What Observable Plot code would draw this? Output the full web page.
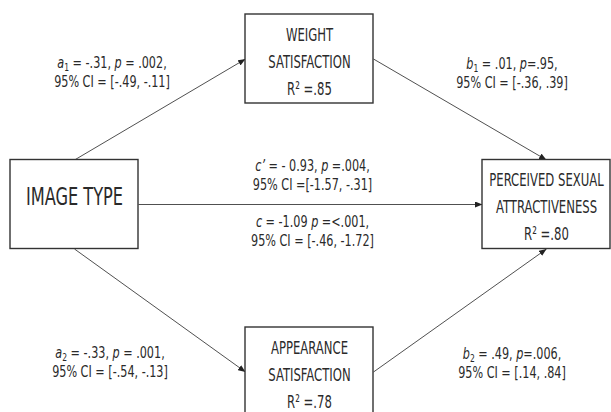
<!DOCTYPE html>
<html><head><meta charset="utf-8">
<script src="https://cdn.jsdelivr.net/npm/d3@7"></script>
<script src="https://cdn.jsdelivr.net/npm/@observablehq/plot@0.6"></script>
<style>body{margin:0;background:#fff}svg{display:block}</style>
</head><body><div id="chart"></div>
<script>
// ---- data: variables (nodes) of the mediation model ----
const nodeNames = ["IMAGE TYPE", "WEIGHT\nSATISFACTION", "PERCEIVED SEXUAL\nATTRACTIVENESS", "APPEARANCE\nSATISFACTION"];
const nodeR2 = [null, ".85", ".80", ".78"];
const nodeCol = [0, 1, 2, 1];   // logical column in the diagram
const nodeRow = [1, 0, 1, 2];   // logical row in the diagram

// ---- data: paths (arrows) ----
const pathFrom = [0, 1, 0, 0, 3];
const pathTo = [1, 2, 2, 3, 2];
const pathFromSide = ["top", "right", "right", "bottom", "right"];
const pathToSide = ["left", "top", "left", "left", "bottom"];

// ---- data: coefficient labels ({..} = italic, _x = subscript) ----
const coefPath = [0, 1, 2, 2, 3, 4];
const coefName = ["{a}_1", "{b}_1", "{c’}", "{c}", "{a}_2", "{b}_2"];
const coefStat = [" = -.31, {p} = .002,", " = .01, {p}=.95,", " = - 0.93, {p} =.004,", " = -1.09 {p} =<.001,", " = -.33, {p} = .001,", " = .49, {p}=.006,"];
const coefCI = ["95% CI = [-.49, -.11]", "95% CI = [-.36, .39]", "95% CI =[-1.57, -.31]", "95% CI = [-.46, -1.72]", "95% CI = [-.54, -.13]", "95% CI = [.14, .84]"];

// ---- layout (pixels) ----
const colRange = [74, 309, 546];
const rowRange = [58.5, 204, 371.5];
const boxHalfW = 64, boxHalfH = 44.5;
const labelDX = [-48, 52, 2, 2, -50, 52];
const labelDY = [-38, -37, -30, 26, 51, 52];

const xOpts = {type: "linear", domain: [0, 1, 2], range: colRange};
const yOpts = {type: "linear", domain: [0, 1, 2], range: rowRange};
const sx = d3.scaleLinear(xOpts.domain, xOpts.range);
const sy = d3.scaleLinear(yOpts.domain, yOpts.range);
const sideOff = {top: [0, -boxHalfH], bottom: [0, boxHalfH], left: [-boxHalfW, 0], right: [boxHalfW, 0]};
function port(n, side) {
  const px = sx(nodeCol[n]) + sideOff[side][0];
  const py = sy(nodeRow[n]) + sideOff[side][1];
  return {x: sx.invert(px), y: sy.invert(py), px, py};
}

const nodes = nodeNames.map((name, i) => ({name, r2: nodeR2[i], col: nodeCol[i], row: nodeRow[i]}));
const edges = pathFrom.map((f, i) => {
  const a = port(f, pathFromSide[i]), b = port(pathTo[i], pathToSide[i]);
  return {x1: a.x, y1: a.y, x2: b.x, y2: b.y, mx: (a.px + b.px) / 2, my: (a.py + b.py) / 2};
});
const labels = coefName.map((n, i) => {
  const e = edges[coefPath[i]];
  return {x: sx.invert(e.mx + labelDX[i]), y: sy.invert(e.my + labelDY[i]), text: n + coefStat[i] + "\n" + coefCI[i]};
});

const ink = "#2a2a2a";
const svg = Plot.plot({
  width: 611, height: 412, margin: 0,
  x: {...xOpts, axis: null},
  y: {...yOpts, axis: null},
  style: {background: "white", fontFamily: '"DejaVu Sans Condensed", sans-serif', color: ink},
  marks: [
    Plot.link(edges, {x1: "x1", y1: "y1", x2: "x2", y2: "y2", stroke: "#3c3c3c", strokeWidth: 0.9}),
    Plot.rect(nodes, {x1: "col", x2: "col", y1: "row", y2: "row",
      insetLeft: -boxHalfW, insetRight: -boxHalfW, insetTop: -boxHalfH, insetBottom: -boxHalfH,
      fill: "white", stroke: "#333", strokeWidth: 1.4}),
    Plot.text(nodes.filter(d => !d.r2), {x: "col", y: "row", text: "name", fontSize: 24, fill: ink}),
    Plot.text(nodes.filter(d => d.r2), {x: "col", y: "row", text: d => d.name + "\nR² =" + d.r2,
      fontSize: 18, lineHeight: 1.5, lineAnchor: "middle", dy: 0, fill: ink}),
    Plot.text(labels, {x: "x", y: "y", text: "text", fontSize: 16, lineHeight: 1.16, lineAnchor: "middle", fill: ink})
  ]
});
document.getElementById("chart").append(svg);

// filled arrowheads
const NS = "http://www.w3.org/2000/svg";
const defs = document.createElementNS(NS, "defs");
defs.innerHTML = '<marker id="ahead" viewBox="0 0 10 8" refX="10" refY="4" markerWidth="7.5" markerHeight="6" markerUnits="userSpaceOnUse" orient="auto"><path d="M0,0L10,4L0,8Z" fill="#222"/></marker>';
svg.insertBefore(defs, svg.firstChild);
svg.querySelectorAll('g[aria-label="link"] path').forEach(p => p.setAttribute("marker-end", "url(#ahead)"));

// rich text: italics and subscripts (subscript drawn with a small dy shift, then restored)
svg.querySelectorAll("text").forEach(t => {
  const spans = t.querySelectorAll("tspan");
  const targets = spans.length ? [...spans] : [t];
  targets.forEach(el => {
    const s = el.textContent;
    if (!/[{_]/.test(s)) return;
    el.textContent = "";
    const re = /\{([^}]*)\}|_(\w)|([^{_]+)/g; let m, shifted = false;
    while ((m = re.exec(s))) {
      const ts = document.createElementNS(NS, "tspan");
      if (m[1] !== undefined) { ts.textContent = m[1]; ts.setAttribute("font-style", "italic"); }
      else if (m[2] !== undefined) { ts.textContent = m[2]; ts.setAttribute("dy", "3"); ts.setAttribute("font-size", "68%"); shifted = true; }
      else ts.textContent = m[3];
      if (m[2] === undefined && shifted) { ts.setAttribute("dy", "-3"); shifted = false; }
      el.appendChild(ts);
    }
  });
});

// horizontal condensing to mimic the original's narrow lettering
const kBySize = {"24": 0.75, "18": 0.72, "16": 0.78};
svg.querySelectorAll("g[font-size]").forEach(g => {
  const k = kBySize[g.getAttribute("font-size")];
  if (!k) return;
  g.querySelectorAll(":scope > text").forEach(t => {
    let pre = t.getAttribute("transform") || "";
    const x = t.getAttribute("x"), y = t.getAttribute("y");
    if (x !== null || y !== null) { pre += ` translate(${+x || 0},${+y || 0})`; t.removeAttribute("x"); t.removeAttribute("y"); }
    t.setAttribute("transform", `${pre} scale(${k},1)`);
  });
});
</script>
</body></html>
